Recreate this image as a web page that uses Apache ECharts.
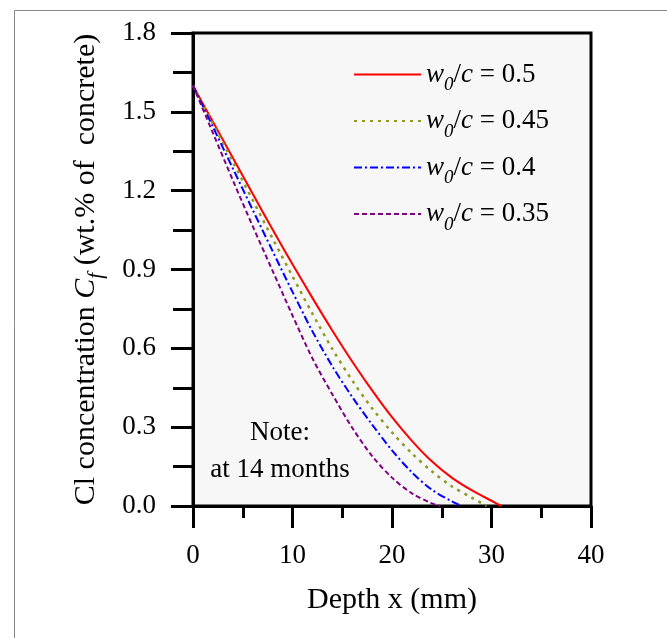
<!DOCTYPE html>
<html>
<head>
<meta charset="utf-8">
<script src="https://cdn.jsdelivr.net/npm/echarts@6/dist/echarts.min.js"></script>
<style>
html, body { margin: 0; padding: 0; background: #fff; }
#main { width: 667px; height: 638px; }
</style>
</head>
<body>
<div id="main"></div>
<script>
// depth (mm) and Cl concentration (wt.% of concrete)
var depth050 = [0, 2, 4, 6, 8, 10, 12, 14, 16, 18, 20, 22, 24, 26, 28, 30, 31];
var conc050  = [1.6, 1.462, 1.325, 1.188, 1.052, 0.92, 0.792, 0.668, 0.55, 0.44, 0.338, 0.248, 0.17, 0.108, 0.06, 0.02, 0];
var depth045 = [0, 2, 4, 6, 8, 10, 12, 14, 16, 18, 20, 22, 24, 26, 28, 29.5];
var conc045  = [1.6, 1.455, 1.31, 1.164, 1.018, 0.874, 0.732, 0.598, 0.478, 0.372, 0.28, 0.2, 0.132, 0.075, 0.032, 0];
var depth040 = [0, 2, 4, 6, 8, 10, 12, 14, 16, 18, 20, 22, 24, 26, 27];
var conc040  = [1.6, 1.443, 1.285, 1.127, 0.97, 0.815, 0.665, 0.532, 0.415, 0.31, 0.212, 0.128, 0.062, 0.018, 0];
var depth035 = [0, 2, 4, 6, 8, 10, 12, 14, 16, 18, 20, 22, 24, 24.8];
var conc035  = [1.6, 1.42, 1.24, 1.065, 0.895, 0.725, 0.562, 0.425, 0.298, 0.19, 0.108, 0.048, 0.01, 0];

var seriesNames = ['0.5', '0.45', '0.4', '0.35'];
var xTicks = [0, 10, 20, 30, 40];
var yTicks = ['0.0', '0.3', '0.6', '0.9', '1.2', '1.5', '1.8'];

function pairs(xs, ys) {
    var out = [];
    for (var i = 0; i < xs.length; i++) {
        out.push([xs[i], ys[i]]);
    }
    return out;
}

var FONT = 'Liberation Serif';
var chart = echarts.init(document.getElementById('main'));

function lineSeries(name, data, color, type, width) {
    return {
        name: name,
        type: 'line',
        data: data,
        showSymbol: false,
        symbol: 'none',
        smooth: 0.3,
        clip: true,
        lineStyle: {color: color, width: width, type: type},
        itemStyle: {color: color}
    };
}

var option = {
    backgroundColor: '#fff',
    animation: false,
    grid: {
        left: 193,
        right: 76,
        top: 33,
        bottom: 132,
        show: true,
        backgroundColor: '#f7f7f7',
        borderColor: '#000',
        borderWidth: 3,
        outerBoundsMode: 'none'
    },
    legend: {
        orient: 'vertical',
        left: 353,
        top: 61,
        padding: 0,
        itemWidth: 67,
        itemHeight: 14,
        itemGap: 13,
        data: seriesNames,
        // hide the circle marker ECharts puts on line icons
        itemStyle: {opacity: 0},
        formatter: function (name) {
            return '{w|w}{s|0}{t|/}{c|c}{t| = ' + name + '}';
        },
        textStyle: {
            fontFamily: FONT,
            fontSize: 27,
            color: '#000',
            rich: {
                w: {fontFamily: FONT, fontSize: 27, fontStyle: 'italic', color: '#000', lineHeight: 40},
                s: {fontFamily: FONT, fontSize: 19, fontStyle: 'italic', color: '#000', lineHeight: 40, verticalAlign: 'bottom'},
                c: {fontFamily: FONT, fontSize: 27, fontStyle: 'italic', color: '#000', lineHeight: 40},
                t: {fontFamily: FONT, fontSize: 27, color: '#000', lineHeight: 40}
            }
        }
    },
    xAxis: {
        type: 'value',
        min: xTicks[0],
        max: xTicks[xTicks.length - 1],
        interval: 10,
        name: 'Depth x (mm)',
        nameLocation: 'middle',
        nameGap: 79,
        nameTextStyle: {fontFamily: FONT, fontSize: 30, color: '#000'},
        axisLine: {show: true, onZero: false, lineStyle: {color: '#000', width: 3}},
        axisTick: {show: true, length: 22, lineStyle: {color: '#000', width: 3}},
        minorTick: {show: true, splitNumber: 2, length: 12, lineStyle: {color: '#000', width: 3}},
        splitLine: {show: false},
        axisLabel: {margin: 36, fontFamily: FONT, fontSize: 27, color: '#000'}
    },
    yAxis: {
        type: 'value',
        min: 0,
        max: 1.8,
        interval: 0.3,
        name: '{a|Cl concentration }{i|C}{s|f}{a| (wt.% of  concrete)}',
        nameLocation: 'middle',
        nameGap: 86,
        nameTextStyle: {
            fontFamily: FONT,
            fontSize: 30,
            color: '#000',
            rich: {
                a: {fontFamily: FONT, fontSize: 30, color: '#000', lineHeight: 42},
                i: {fontFamily: FONT, fontSize: 30, fontStyle: 'italic', color: '#000', lineHeight: 42},
                s: {fontFamily: FONT, fontSize: 21, fontStyle: 'italic', color: '#000', lineHeight: 42, verticalAlign: 'bottom'}
            }
        },
        axisLine: {show: true, onZero: false, lineStyle: {color: '#000', width: 3}},
        axisTick: {show: true, length: 22, lineStyle: {color: '#000', width: 3}},
        minorTick: {show: true, splitNumber: 2, length: 20, lineStyle: {color: '#000', width: 3}},
        splitLine: {show: false},
        axisLabel: {
            margin: 37,
            fontFamily: FONT,
            fontSize: 27,
            color: '#000',
            formatter: function (v) {
                return yTicks[Math.round(v / 0.3)];
            }
        }
    },
    graphic: [
        {
            type: 'rect',
            left: 12,
            top: 8,
            shape: {width: 653, height: 640},
            style: {fill: 'none', stroke: '#888', lineWidth: 1},
            silent: true
        },
        {
            type: 'text',
            position: [280, 414],
            style: {
                text: 'Note:\nat 14 months',
                x: 0,
                y: 0,
                fontFamily: FONT,
                fontSize: 27,
                lineHeight: 37,
                fill: '#000',
                align: 'center'
            }
        }
    ],
    series: [
        lineSeries('0.5', pairs(depth050, conc050), '#ff0000', 'solid', 2),
        lineSeries('0.45', pairs(depth045, conc045), '#8c9a1e', [3, 5], 2.5),
        lineSeries('0.4', pairs(depth040, conc040), '#0000ff', [8, 3, 2, 3], 2),
        lineSeries('0.35', pairs(depth035, conc035), '#800080', [5, 3], 2)
    ]
};

chart.setOption(option);
</script>
</body>
</html>
